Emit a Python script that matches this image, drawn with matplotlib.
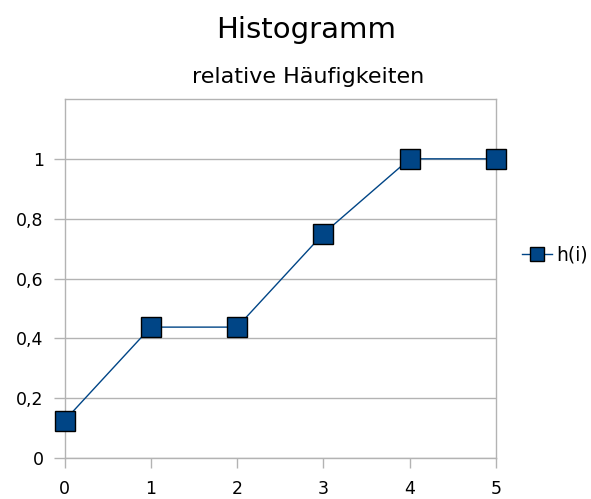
import numpy as np
import matplotlib
matplotlib.use("Agg")
import matplotlib.pyplot as plt

x_vals = [0, 1, 2, 3, 4, 5]
h_vals = [0.125, 0.4375, 0.4375, 0.75, 1.0, 1.0]
y_ticks = [0, 0.2, 0.4, 0.6, 0.8, 1.0]
y_labels = ["0", "0,2", "0,4", "0,6", "0,8", "1"]

blue = "#004586"
gray = "#b3b3b3"

fig = plt.figure(figsize=(5.91, 4.99), dpi=100)
ax = fig.add_axes([64.5 / 591, 41 / 499, (496 - 64.5) / 591, (458 - 99) / 499])

ax.plot(x_vals, h_vals, color=blue, lw=1, marker="s", markersize=14.5,
        markerfacecolor=blue, markeredgecolor="black", markeredgewidth=1,
        clip_on=False, zorder=5, label="h(i)")

ax.set_xlim(0, 5)
ax.set_ylim(0, 1.2)
ax.set_xticks(x_vals)
ax.set_yticks(y_ticks)
ax.set_yticklabels(y_labels)
ax.yaxis.grid(True, color=gray, lw=1)
ax.set_axisbelow(True)
for s in ax.spines.values():
    s.set_color(gray)
    s.set_linewidth(1)
ax.tick_params(axis="x", length=7.5, width=1, color=gray, pad=8, labelsize=12.5)
ax.tick_params(axis="y", length=8, width=1, color=gray, pad=7, labelsize=12.5)

fig.text(306 / 591, 1 - 38 / 499, "Histogramm", ha="center", va="baseline", fontsize=21)
fig.text(308 / 591, 1 - 83 / 499, "relative Häufigkeiten", ha="center", va="baseline", fontsize=16)

fig.legend(loc="center left", bbox_to_anchor=(514 / 591, 1 - 255 / 499), frameon=False,
           fontsize=13.5, handlelength=1.6, handletextpad=0.25, markerscale=0.66,
           borderaxespad=0)

fig.savefig("out.png", dpi=100)
